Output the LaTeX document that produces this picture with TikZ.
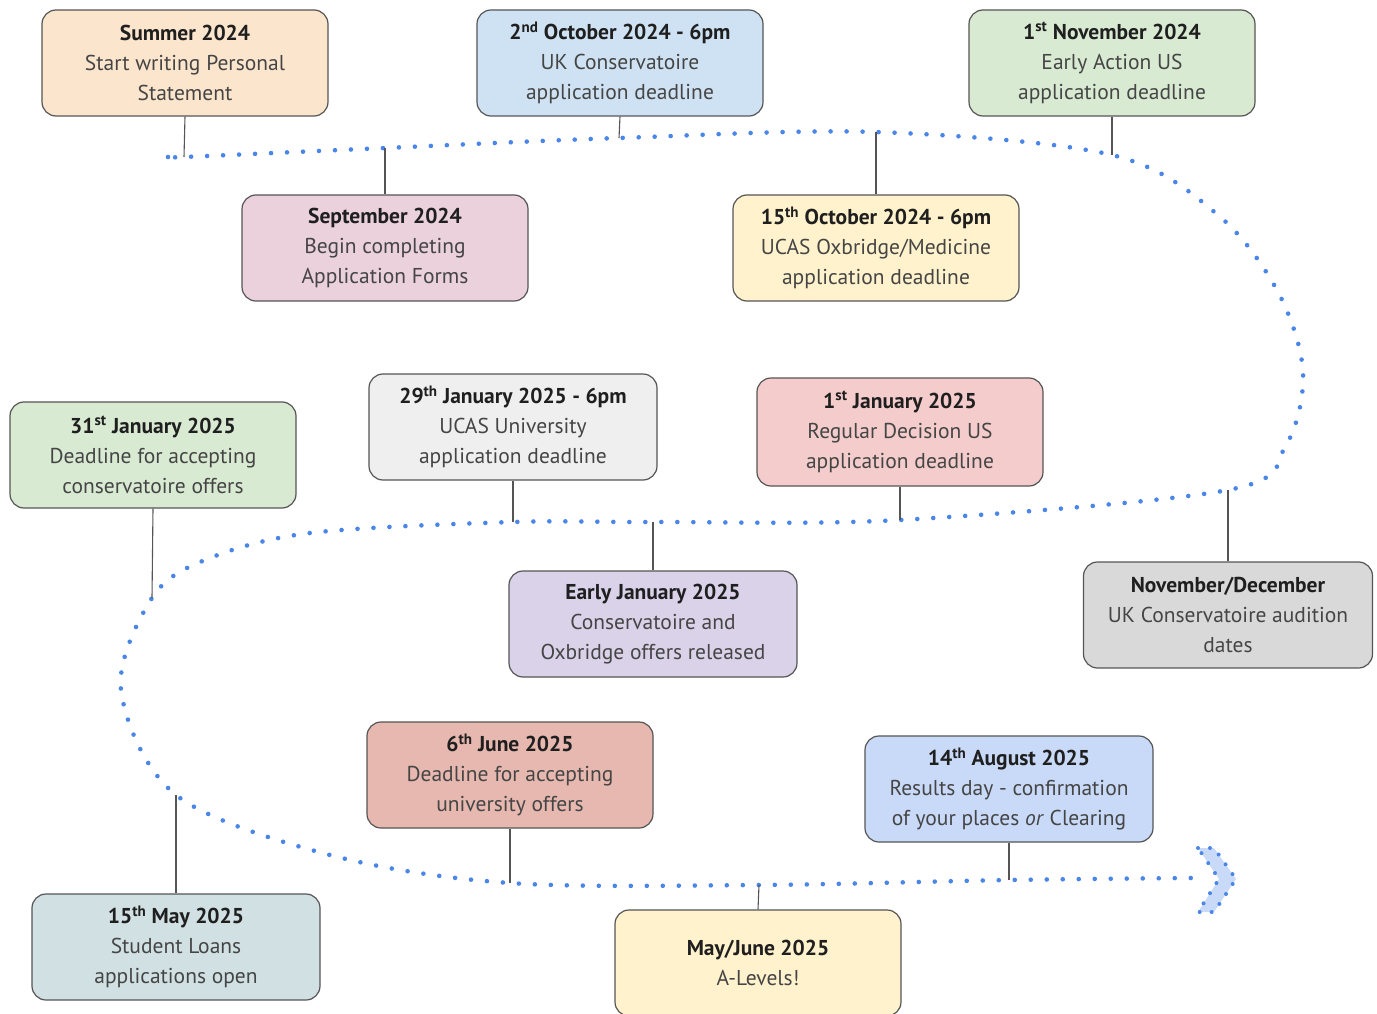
\documentclass[tikz,border=0pt]{standalone}
\usepackage{fontspec}
\setmainfont{PT Sans}
\usetikzlibrary{positioning, calc, arrows.meta}

\definecolor{boxline}{HTML}{555555}
\definecolor{titletext}{HTML}{1F1F1F}
\definecolor{bodytext}{HTML}{454545}
\definecolor{dotblue}{HTML}{4A86E8}
\definecolor{headfill}{HTML}{C9DAF8}
\definecolor{cpeach}{HTML}{FCE5CD}
\definecolor{cblue}{HTML}{CFE2F3}
\definecolor{cgreen}{HTML}{D9EAD3}
\definecolor{cpink}{HTML}{EAD1DC}
\definecolor{cyellow}{HTML}{FFF2CC}
\definecolor{clight}{HTML}{EFEFEF}
\definecolor{cred}{HTML}{F4CCCC}
\definecolor{cpurple}{HTML}{D9D2E9}
\definecolor{cgrey}{HTML}{D9D9D9}
\definecolor{cbrick}{HTML}{E6B8AF}
\definecolor{ccorn}{HTML}{C9DAF8}
\definecolor{cteal}{HTML}{D0E0E3}

\tikzset{
  event/.style={draw=boxline, line width=1.2pt, rounded corners=14pt,
    minimum width=286pt, minimum height=106pt, inner sep=0pt,
    align=center, text=bodytext, font=\fontsize{21.5}{30}\selectfont},
  stem/.style={draw=boxline, line width=1.1pt},
  timeline/.style={draw=dotblue, line width=4.6pt, line cap=round,
    dash pattern=on 0pt off 16pt},
}
\newcommand{\evtitle}[1]{{\bfseries\color{titletext}#1}}

\begin{document}
\begin{tikzpicture}[x=1pt, y=-1pt]
        \useasboundingbox (0,0) rectangle (1377,1014);
        % Points on the timeline
        \coordinate (tstart) at (168,157);
        \coordinate (tsummer) at (184,157);
        \coordinate (tsept) at (385,148);
        \coordinate (toctuk) at (619,138);
        \coordinate (toctucas) at (876,132);
        \coordinate (tnovus) at (1112,155);
        \coordinate (taudition) at (1228,490);
        \coordinate (tjanus) at (900,520);
        \coordinate (tearlyjan) at (653,522);
        \coordinate (tjanucas) at (513,522);
        \coordinate (tjanconf) at (152,598);
        \coordinate (tloans) at (176,795);
        \coordinate (tjuneoffers) at (510,883);
        \coordinate (talevels) at (759,885);
        \coordinate (tresults) at (1009,880);
        \coordinate (tend) at (1192,878);
        % Timeline
        \draw[timeline] plot[smooth, tension=0.55] coordinates {
            (tstart) (tsummer) (tsept) (toctuk) (toctucas) (tnovus)
            (1218,215) (1278,292) (1303,372) (1286,445) (taudition)
            (tjanus) (tearlyjan) (tjanucas) (310,533) (205,560) (tjanconf)
            (121,690) (tloans) (330,855) (tjuneoffers) (talevels)
            (tresults) (tend)};
        % Arrow head
        \fill[headfill] (1198,848) -- (1214,848) -- (1236,879) -- (1214,912)
            -- (1198,912) -- (1219,879) -- cycle;
        \draw[timeline, line width=4pt, dash pattern=on 0pt off 12pt] (1198,848) -- (1214,848)
            -- (1236,879) -- (1214,912) -- (1198,912) -- (1219,879) -- cycle;
        % Events above the line
        \node[event, fill=cpeach] (summer) at (185,63)
            {\evtitle{Summer 2024}\\Start writing Personal\\Statement};
        \node[event, fill=cblue] (octuk) at (620,63)
            {\evtitle{2\textsuperscript{nd} October 2024 - 6pm}\\UK Conservatoire\\application deadline};
        \node[event, fill=cgreen] (novus) at (1112,63)
            {\evtitle{1\textsuperscript{st} November 2024}\\Early Action US\\application deadline};
        \node[event, fill=cpink] (sept) at (385,248)
            {\evtitle{September 2024}\\Begin completing\\Application Forms};
        \node[event, fill=cyellow] (octucas) at (876,248)
            {\evtitle{15\textsuperscript{th} October 2024 - 6pm}\\UCAS Oxbridge/Medicine\\application deadline};
        % Middle row
        \node[event, fill=clight, minimum width=288pt] (janucas) at (513,427)
            {\evtitle{29\textsuperscript{th} January 2025 - 6pm}\\UCAS University\\application deadline};
        \node[event, fill=cred, minimum height=108pt] (janus) at (900,432)
            {\evtitle{1\textsuperscript{st} January 2025}\\Regular Decision US\\application deadline};
        \node[event, fill=cgreen] (janconf) at (153,455)
            {\evtitle{31\textsuperscript{st} January 2025}\\Deadline for accepting\\conservatoire offers};
        \node[event, fill=cpurple, minimum width=288pt] (earlyjan) at (653,624)
            {\evtitle{Early January 2025}\\Conservatoire and\\Oxbridge offers released};
        \node[event, fill=cgrey, minimum width=289pt] (audition) at (1228,615)
            {\evtitle{November/December}\\UK Conservatoire audition\\dates};
        % Bottom row
        \node[event, fill=cbrick] (juneoffers) at (510,775)
            {\evtitle{6\textsuperscript{th} June 2025}\\Deadline for accepting\\university offers};
        \node[event, fill=ccorn, minimum width=288pt] (results) at (1009,789)
            {\evtitle{14\textsuperscript{th} August 2025}\\Results day - confirmation\\of your places \textit{or} Clearing};
        \node[event, fill=cteal, minimum width=288pt] (loans) at (176,947)
            {\evtitle{15\textsuperscript{th} May 2025}\\Student Loans\\applications open};
        \node[event, fill=cyellow] (alevels) at (758,963)
            {\evtitle{May/June 2025}\\A-Levels!};
        % Stems
        \draw[stem] (summer.south) -- (tsummer);
        \draw[stem] (octuk.south) -- (toctuk);
        \draw[stem] (novus.south) -- (tnovus);
        \draw[stem] (sept.north) -- (tsept);
        \draw[stem] (octucas.north) -- (toctucas);
        \draw[stem] (janucas.south) -- (tjanucas);
        \draw[stem] (janus.south) -- (tjanus);
        \draw[stem] (janconf.south) -- (tjanconf);
        \draw[stem] (earlyjan.north) -- (tearlyjan);
        \draw[stem] (audition.north) -- (taudition);
        \draw[stem] (juneoffers.south) -- (tjuneoffers);
        \draw[stem] (results.south) -- (tresults);
        \draw[stem] (loans.north) -- (tloans);
        \draw[stem] (alevels.north) -- (talevels);
    \end{tikzpicture}
\end{document}
